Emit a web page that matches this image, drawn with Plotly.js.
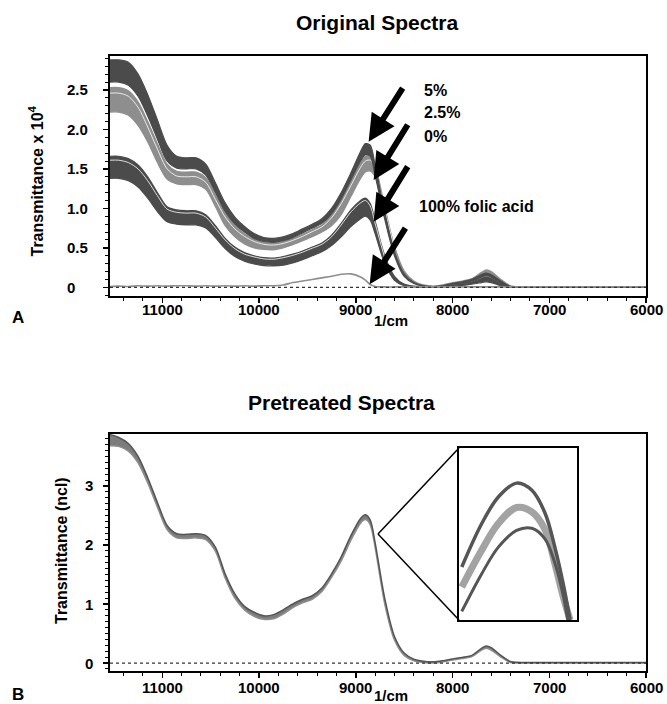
<!DOCTYPE html>
<html>
<head>
<meta charset="utf-8">
<script src="https://cdn.plot.ly/plotly-3.0.1.min.js"></script>
<style>html,body{margin:0;padding:0;background:#fff;}#chart{width:667px;height:704px;}</style>
</head>
<body>
<div id="chart"></div>
<script>
// wavenumber grid (1/cm)
const wn = [11540, 11450, 11350, 11250, 11150, 11050, 10950, 10850, 10750, 10650, 10550, 10450, 10350, 10250, 10150, 10050, 9950, 9850, 9750, 9650, 9550, 9450, 9350, 9250, 9150, 9050, 8950, 8900, 8850, 8800, 8700, 8600, 8500, 8400, 8300, 8200, 8100, 8000, 7900, 7800, 7700, 7650, 7600, 7500, 7400, 7300, 7000, 6500, 6000];

// Original spectra (x 10^4): envelopes of each group
const pct5Top = [2.88, 2.88, 2.85, 2.70, 2.44, 2.12, 1.80, 1.66, 1.64, 1.64, 1.56, 1.32, 1.07, 0.89, 0.77, 0.68, 0.63, 0.62, 0.64, 0.68, 0.74, 0.80, 0.87, 1.00, 1.20, 1.45, 1.72, 1.82, 1.80, 1.55, 0.95, 0.45, 0.17, 0.06, 0.02, 0.01, 0.02, 0.05, 0.07, 0.10, 0.16, 0.18, 0.16, 0.08, 0.01, 0.005, 0, 0, 0];
const pct5Bot = [2.60, 2.60, 2.56, 2.42, 2.17, 1.88, 1.60, 1.51, 1.50, 1.50, 1.42, 1.20, 0.96, 0.80, 0.70, 0.62, 0.58, 0.57, 0.59, 0.63, 0.69, 0.75, 0.81, 0.93, 1.12, 1.36, 1.60, 1.68, 1.66, 1.42, 0.86, 0.40, 0.14, 0.05, 0.015, 0.005, 0.01, 0.04, 0.055, 0.08, 0.13, 0.15, 0.13, 0.06, 0.005, 0, 0, 0, 0];
const pct25Top = [2.53, 2.53, 2.49, 2.35, 2.10, 1.82, 1.56, 1.47, 1.46, 1.46, 1.39, 1.17, 0.94, 0.78, 0.68, 0.61, 0.57, 0.56, 0.58, 0.62, 0.67, 0.73, 0.79, 0.91, 1.10, 1.34, 1.58, 1.66, 1.67, 1.55, 1.02, 0.52, 0.21, 0.08, 0.03, 0.015, 0.03, 0.06, 0.08, 0.11, 0.19, 0.22, 0.20, 0.10, 0.02, 0.005, 0, 0, 0];
const pct25Line = [2.46, 2.46, 2.42, 2.28, 2.03, 1.75, 1.50, 1.41, 1.40, 1.40, 1.33, 1.11, 0.89, 0.74, 0.645, 0.58, 0.545, 0.535, 0.555, 0.595, 0.645, 0.705, 0.765, 0.88, 1.06, 1.29, 1.52, 1.60, 1.61, 1.50, 0.98, 0.49, null, null, null, null, null, null, null, null, null, null, null, null, null, null, null, null, null];
const pct25Bot = [2.22, 2.22, 2.18, 2.05, 1.84, 1.58, 1.37, 1.31, 1.30, 1.30, 1.24, 1.02, 0.78, 0.64, 0.55, 0.50, 0.48, 0.475, 0.50, 0.54, 0.59, 0.64, 0.70, 0.78, 0.92, 1.15, 1.38, 1.46, 1.47, 1.40, 0.92, 0.46, 0.18, 0.06, 0.02, 0.01, 0.015, 0.04, 0.05, 0.07, 0.12, 0.14, 0.12, 0.05, 0.01, 0, 0, 0, 0];
const pct0Top = [1.66, 1.66, 1.63, 1.55, 1.40, 1.20, 1.02, 0.98, 0.97, 0.97, 0.92, 0.78, 0.62, 0.51, 0.44, 0.40, 0.375, 0.37, 0.39, 0.42, 0.46, 0.51, 0.56, 0.66, 0.81, 0.98, 1.10, 1.13, 1.06, 0.84, 0.40, 0.14, 0.04, 0.015, 0.01, 0.01, 0.015, 0.03, 0.045, 0.065, 0.11, 0.13, 0.11, 0.05, 0.01, 0, 0, 0, 0];
const pct0Line = [1.61, 1.61, 1.58, 1.50, 1.35, 1.16, 0.99, 0.95, 0.94, 0.94, 0.89, 0.75, 0.60, 0.49, 0.42, 0.385, 0.36, 0.355, 0.375, 0.405, 0.445, 0.495, 0.545, 0.64, 0.79, 0.955, 1.07, 1.10, 1.03, 0.81, 0.37, null, null, null, null, null, null, null, null, null, null, null, null, null, null, null, null, null, null];
const pct0Bot = [1.38, 1.38, 1.35, 1.27, 1.13, 0.96, 0.83, 0.80, 0.79, 0.79, 0.75, 0.63, 0.49, 0.39, 0.33, 0.295, 0.275, 0.27, 0.28, 0.31, 0.35, 0.40, 0.45, 0.53, 0.64, 0.77, 0.87, 0.90, 0.85, 0.68, 0.30, 0.09, 0.02, 0.005, 0, 0, 0.005, 0.015, 0.025, 0.04, 0.06, 0.07, 0.06, 0.02, 0, 0, 0, 0, 0];
const folicAcid = [0.01, 0.015, 0.01, 0.02, 0.015, 0.02, 0.015, 0.02, 0.02, 0.015, 0.02, 0.015, 0.02, 0.015, 0.02, 0.015, 0.02, 0.02, 0.03, 0.06, 0.08, 0.10, 0.12, 0.14, 0.165, 0.17, 0.13, 0.09, 0.035, 0.01, 0.005, 0.005, 0.005, 0.005, 0.005, 0.005, 0.005, 0.005, 0.005, 0.005, 0.005, 0.005, 0.005, 0.005, 0.005, 0.005, 0.005, 0.005, 0.005];

// Pretreated spectra (ncl): envelope
const preHi = [3.87, 3.82, 3.72, 3.50, 3.14, 2.72, 2.33, 2.19, 2.18, 2.19, 2.16, 1.96, 1.51, 1.17, 0.96, 0.86, 0.80, 0.82, 0.90, 1.00, 1.08, 1.14, 1.27, 1.51, 1.80, 2.16, 2.45, 2.51, 2.42, 2.04, 1.09, 0.45, 0.17, 0.065, 0.03, 0.02, 0.04, 0.07, 0.095, 0.13, 0.25, 0.29, 0.26, 0.13, 0.025, 0.01, 0.008, 0.008, 0.008];
const preLo = [3.68, 3.67, 3.59, 3.39, 3.05, 2.64, 2.26, 2.12, 2.11, 2.12, 2.09, 1.89, 1.44, 1.10, 0.90, 0.79, 0.74, 0.75, 0.83, 0.94, 1.02, 1.08, 1.21, 1.45, 1.73, 2.08, 2.37, 2.43, 2.34, 1.96, 1.00, 0.39, 0.13, 0.04, 0.01, 0, 0.02, 0.05, 0.075, 0.11, 0.22, 0.25, 0.22, 0.10, 0.01, 0, 0, 0, 0];

// Inset (zoom on the pretreated peak)
const insetWn = [8996, 8967, 8943, 8917, 8895, 8876, 8862, 8850, 8840];
const insetUpper = [2.354, 2.415, 2.452, 2.471, 2.461, 2.429, 2.382, 2.331, 2.28];
const insetMiddle = [2.326, 2.378, 2.415, 2.437, 2.431, 2.406, 2.359, 2.313, 2.28];
const insetLower = [2.292, 2.345, 2.382, 2.405, 2.408, 2.393, 2.36, 2.315, 2.26];

// tick labels
const xTickVals = [11000, 10000, 9000, 8000, 7000, 6000];
const xTickText = ['11000', '10000', '9000', '8000', '7000', '6000'];
const yTopTickVals = [0, 0.5, 1.0, 1.5, 2.0, 2.5];
const yTopTickText = ['0', '0.5', '1.0', '1.5', '2.0', '2.5'];
const yBotTickVals = [0, 1, 2, 3];
const yBotTickText = ['0', '1', '2', '3'];

// group labels and arrows
const groupLabels = ['5%', '2.5%', '0%', '100% folic acid'];
const arrowHeadWn = [8867, 8815, 8815, 8856];
const arrowHeadVal = [1.845, 1.36, 0.83, 0.038];

const DARK = '#4b4b4b', GRAY = '#8e8e8e';
const FONT = 'Liberation Sans, Arial, Helvetica, sans-serif';
const SPL = {shape: 'spline', smoothing: 0.8};

function band(lo, hi, color, xa, ya) {
  return [
    {x: wn, y: lo, xaxis: xa, yaxis: ya, mode: 'lines', line: Object.assign({color: color, width: 1.2}, SPL)},
    {x: wn, y: hi, xaxis: xa, yaxis: ya, mode: 'lines', fill: 'tonexty', fillcolor: color, line: Object.assign({color: color, width: 1.2}, SPL)}
  ];
}
function whiteLine(arr) {
  return {x: wn, y: arr, xaxis: 'x', yaxis: 'y', mode: 'lines', connectgaps: false, line: Object.assign({color: 'rgba(255,255,255,0.9)', width: 0.9}, SPL)};
}

const traces = [].concat(
  band(pct25Bot, pct25Top, GRAY, 'x', 'y'),
  [whiteLine(pct25Line)],
  band(pct5Bot, pct5Top, DARK, 'x', 'y'),
  band(pct0Bot, pct0Top, DARK, 'x', 'y'),
  [whiteLine(pct0Line)],
  [{x: wn, y: folicAcid, xaxis: 'x', yaxis: 'y', mode: 'lines', line: Object.assign({color: GRAY, width: 1.6}, SPL)}],
  [{x: wn, y: preLo, xaxis: 'x2', yaxis: 'y2', mode: 'lines', line: Object.assign({color: GRAY, width: 1.5}, SPL)},
   {x: wn, y: preHi, xaxis: 'x2', yaxis: 'y2', mode: 'lines', fill: 'tonexty', fillcolor: '#7c7c7c', line: Object.assign({color: '#555', width: 1.5}, SPL)}],
  [{x: insetWn, y: insetMiddle, xaxis: 'x3', yaxis: 'y3', mode: 'lines', line: {color: '#a3a3a3', width: 7, shape: 'spline'}},
   {x: insetWn, y: insetUpper, xaxis: 'x3', yaxis: 'y3', mode: 'lines', line: {color: '#555', width: 3.5, shape: 'spline'}},
   {x: insetWn, y: insetLower, xaxis: 'x3', yaxis: 'y3', mode: 'lines', line: {color: '#555', width: 3, shape: 'spline'}}]
);

const L = 110, R = 21, T = 56, B = 33, W = 667, H = 704;
const pw = W - L - R, ph = H - T - B;
const px = v => (v - L) / pw;
const py = v => (H - B - v) / ph;

const xCommon = {
  range: [11540, 6000], tickmode: 'array', tickvals: xTickVals, showticklabels: false,
  ticks: 'outside', ticklen: 5, tickwidth: 1.5, tickcolor: '#000',
  minor: {dtick: 200, tick0: 6000, ticks: 'outside', ticklen: 3, tickwidth: 1, tickcolor: '#000'},
  showline: true, linewidth: 1.8, linecolor: '#000', mirror: true,
  showgrid: false, zeroline: false
};
const yCommon = {
  ticks: 'outside', ticklen: 5, tickwidth: 1.5, tickcolor: '#000', showticklabels: false,
  showline: true, linewidth: 1.8, linecolor: '#000', mirror: true,
  showgrid: false, zeroline: false
};

const annotations = [];
function add(a) { annotations.push(Object.assign({showarrow: false, xanchor: 'center', yanchor: 'middle', font: {family: FONT, size: 15, color: '#000', weight: 'bold'}}, a)); }

yTopTickVals.forEach((v, i) => add({xref: 'paper', yref: 'y', x: px(65), y: v, xanchor: 'left', text: yTopTickText[i]}));
yBotTickVals.forEach((v, i) => add({xref: 'paper', yref: 'y2', x: px(83), y: v, xanchor: 'left', text: yBotTickText[i]}));
xTickVals.forEach((v, i) => add({xref: 'x', yref: 'paper', x: v, y: py(309), text: xTickText[i]}));
xTickVals.forEach((v, i) => add({xref: 'x2', yref: 'paper', x: v, y: py(687.5), text: xTickText[i]}));

add({xref: 'paper', yref: 'paper', x: px(377), y: py(22), text: 'Original Spectra', font: {family: FONT, size: 21, weight: 'bold', color: '#000'}});
add({xref: 'paper', yref: 'paper', x: px(341), y: py(402), text: 'Pretreated Spectra', font: {family: FONT, size: 21, weight: 'bold', color: '#000'}});
add({xref: 'paper', yref: 'paper', x: px(17.5), y: py(317), text: 'A', font: {family: FONT, size: 17, weight: 'bold', color: '#000'}});
add({xref: 'paper', yref: 'paper', x: px(17.5), y: py(694), text: 'B', font: {family: FONT, size: 17, weight: 'bold', color: '#000'}});
add({xref: 'paper', yref: 'paper', x: px(391), y: py(320), text: '1/cm'});
add({xref: 'paper', yref: 'paper', x: px(391), y: py(695.5), text: '1/cm'});
add({xref: 'paper', yref: 'paper', x: px(36), y: py(181.5), textangle: -90, text: 'Transmittance x 10<sup>4</sup>', font: {family: FONT, size: 16, weight: 'bold', color: '#000'}});
add({xref: 'paper', yref: 'paper', x: px(61), y: py(551), textangle: -90, text: 'Transmittance (ncl)', font: {family: FONT, size: 16, weight: 'bold', color: '#000'}});

const labelY = [91, 113, 136, 206];
const labelX = [421.7, 421.7, 421.7, 417.3];
groupLabels.forEach((t, i) => add({xref: 'paper', yref: 'paper', x: px(labelX[i]), y: py(labelY[i]), xanchor: 'left', text: t, font: {family: FONT, size: 16, weight: 'bold', color: '#000'}}));

const tailDx = [35, 35, 35, 36.7], tailDy = [-55, -56.7, -56.7, -57.6];
arrowHeadWn.forEach((w, i) => annotations.push({xref: 'x', yref: 'y', x: w, y: arrowHeadVal[i], ax: tailDx[i], ay: tailDy[i], text: '', showarrow: true, arrowhead: 2, arrowsize: 0.9, arrowwidth: 6, arrowcolor: '#000', standoff: 0}));

const layout = {
  width: W, height: H, margin: {l: L, r: R, t: T, b: B},
  paper_bgcolor: '#fff', plot_bgcolor: '#fff', showlegend: false, hovermode: false,
  font: {family: FONT, color: '#000'},
  xaxis: Object.assign({}, xCommon, {domain: [0, 1], anchor: 'y'}),
  yaxis: Object.assign({}, yCommon, {domain: [py(296), 1], anchor: 'x', range: [-0.11, 2.93], dtick: 0.5, tick0: 0,
    minor: {dtick: 0.1, tick0: 0, ticks: 'outside', ticklen: 3, tickwidth: 1, tickcolor: '#000'}}),
  xaxis2: Object.assign({}, xCommon, {domain: [0, 1], anchor: 'y2'}),
  yaxis2: Object.assign({}, yCommon, {domain: [0, py(434)], anchor: 'x2', range: [-0.135, 3.88], dtick: 1, tick0: 0,
    minor: {dtick: 0.1, tick0: 0, ticks: 'outside', ticklen: 3, tickwidth: 1, tickcolor: '#000'}}),
  xaxis3: {domain: [px(459), px(577)], anchor: 'y3', range: [9000, 8830], showticklabels: false, ticks: '', showgrid: false, zeroline: false, showline: true, mirror: true, linewidth: 1.8, linecolor: '#000'},
  yaxis3: {domain: [py(620), py(448)], anchor: 'x3', range: [2.28, 2.52], showticklabels: false, ticks: '', showgrid: false, zeroline: false, showline: true, mirror: true, linewidth: 1.8, linecolor: '#000'},
  shapes: [
    {type: 'line', xref: 'x domain', yref: 'y', x0: 0, x1: 1, y0: 0, y1: 0, line: {color: '#333', width: 1.2, dash: 'dot'}, layer: 'above'},
    {type: 'line', xref: 'x2 domain', yref: 'y2', x0: 0, x1: 1, y0: 0, y1: 0, line: {color: '#333', width: 1.2, dash: 'dot'}, layer: 'above'},
    {type: 'line', xref: 'paper', yref: 'paper', x0: px(378), y0: py(534), x1: px(459), y1: py(448), line: {color: '#000', width: 1.5}},
    {type: 'line', xref: 'paper', yref: 'paper', x0: px(378), y0: py(534), x1: px(459), y1: py(620), line: {color: '#000', width: 1.5}}
  ],
  annotations: annotations
};

Plotly.newPlot('chart', traces, layout, {displayModeBar: false, staticPlot: true});
</script>
</body>
</html>
